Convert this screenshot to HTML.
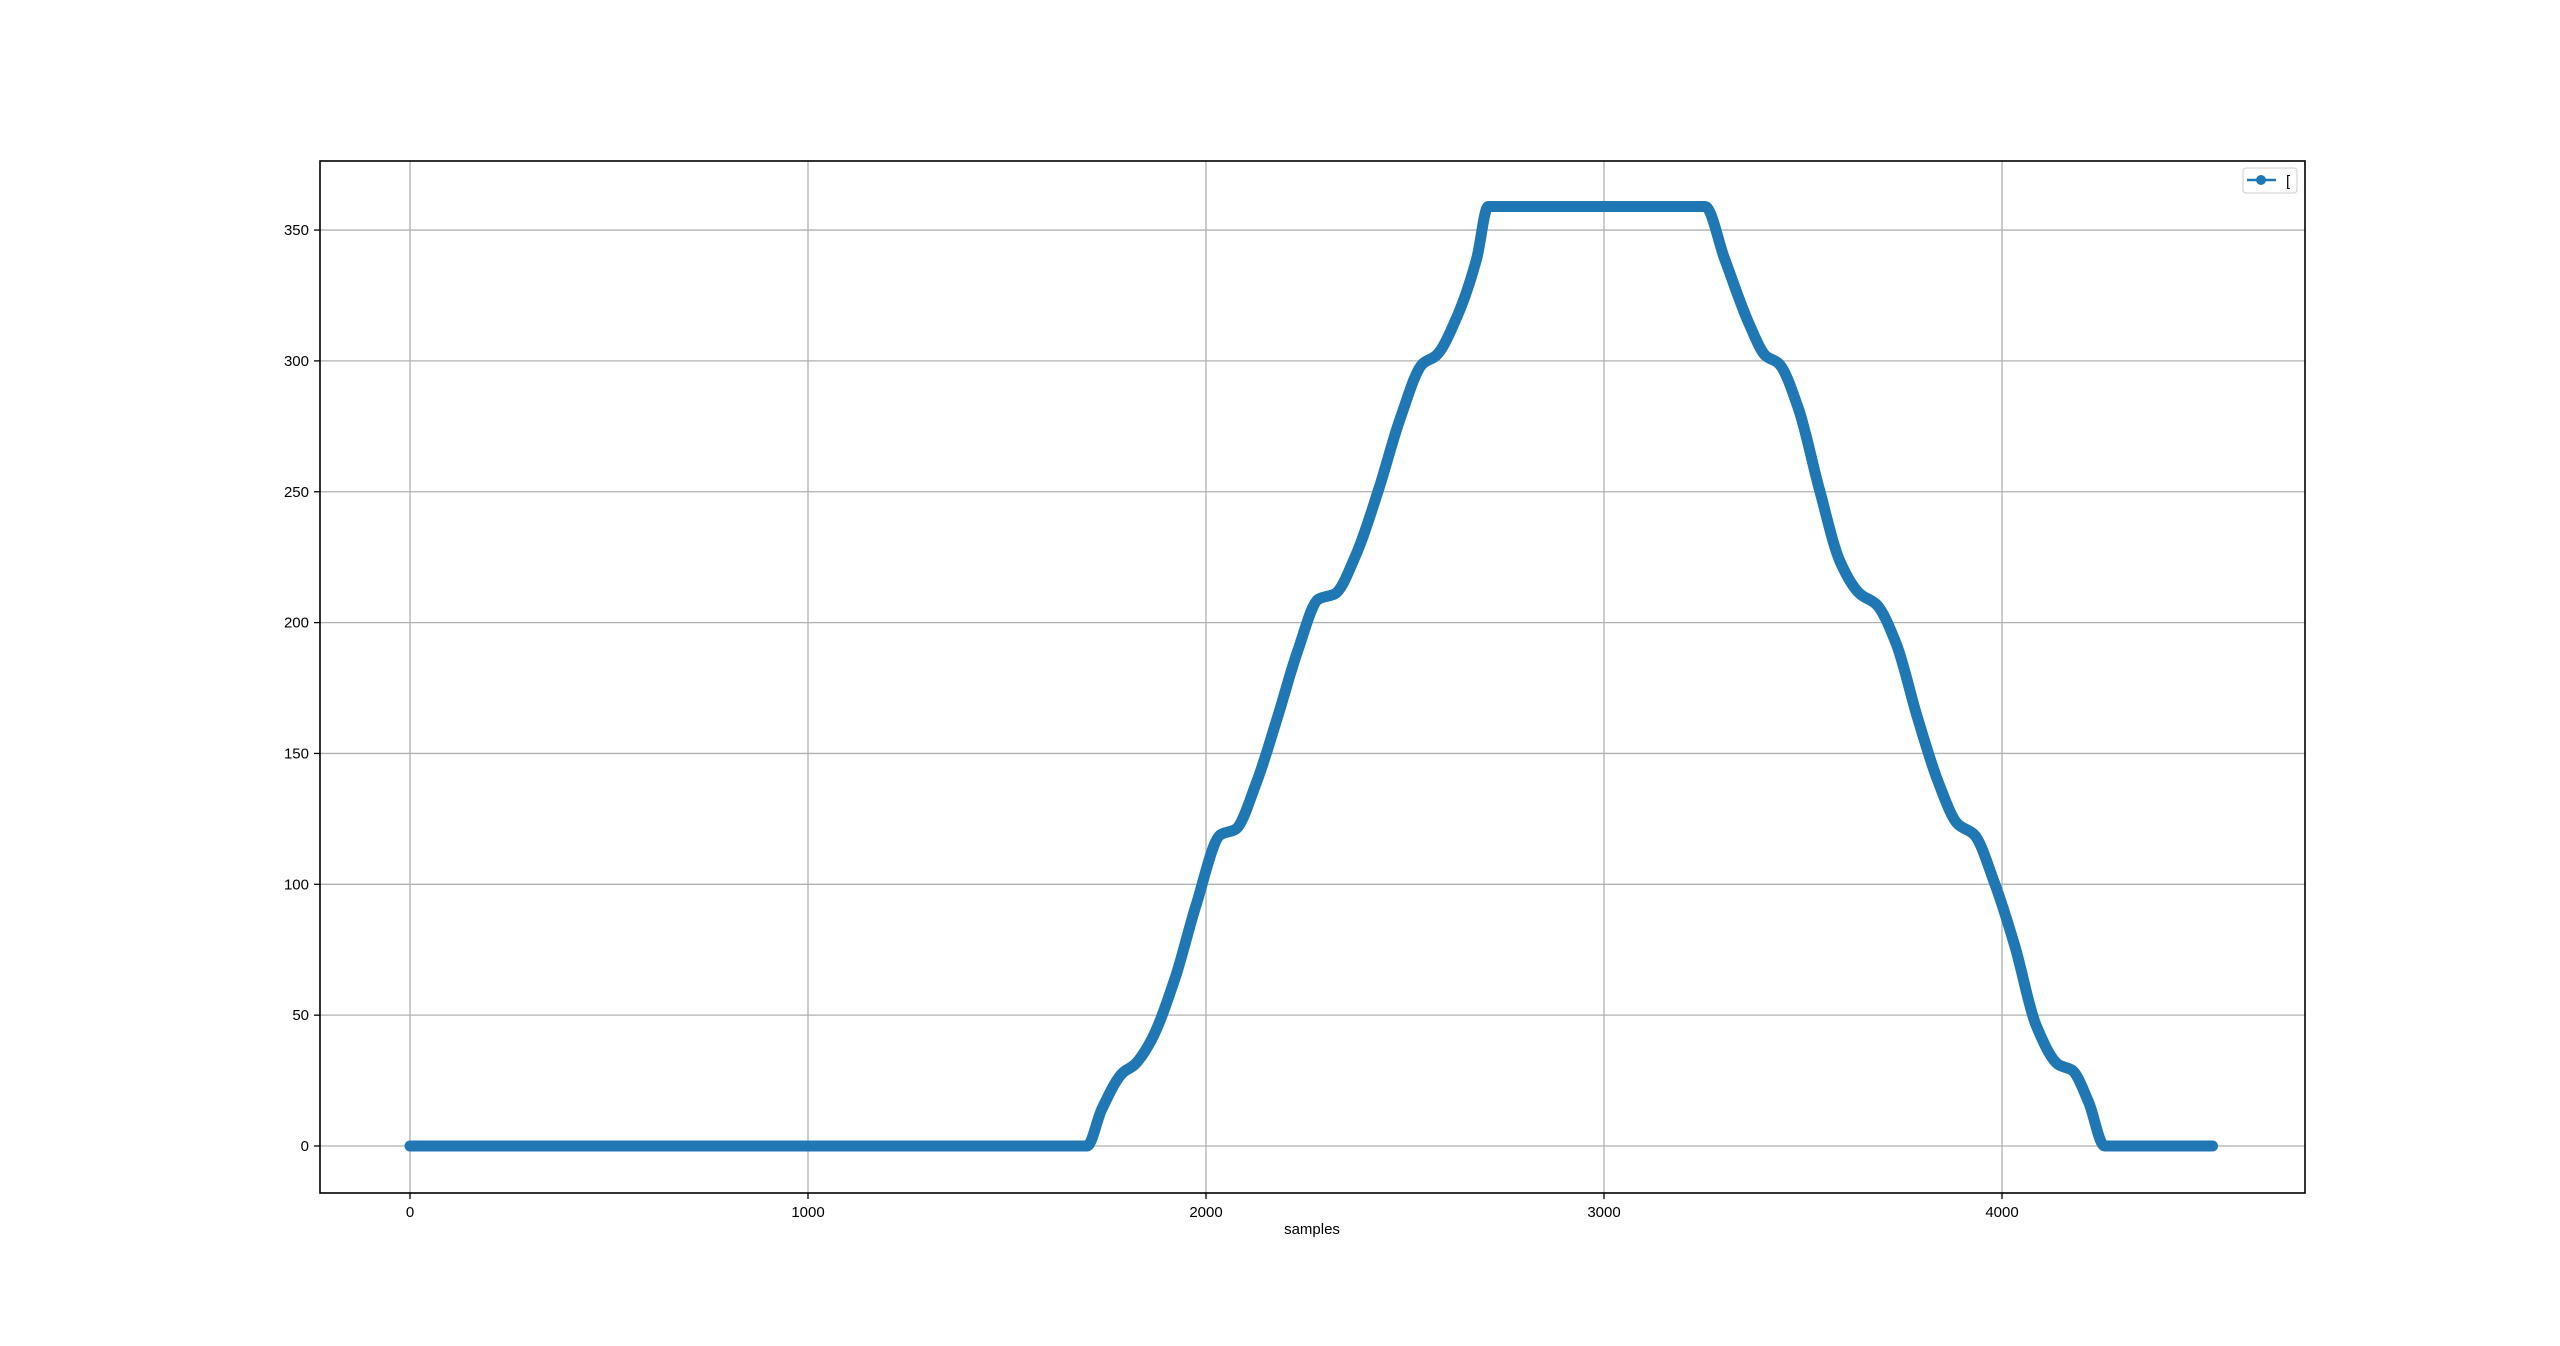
<!DOCTYPE html>
<html><head><meta charset="utf-8"><style>
html,body{margin:0;padding:0;background:#fff;}
svg text{font-family:"Liberation Sans","DejaVu Sans",sans-serif;font-size:15px;fill:#000;}
</style></head><body>
<svg id="chart" width="2560" height="1341" xmlns="http://www.w3.org/2000/svg">
<rect width="2560" height="1341" fill="#fff"/>
<g id="grid"></g>
<g id="series"></g>
<rect x="320" y="161" width="1985" height="1032" fill="none" stroke="#000" stroke-width="1.6"/>
<g id="ticks"></g>
<text x="1312" y="1234" text-anchor="middle">samples</text>
<g>
<rect x="2243" y="168" width="54" height="25" rx="3" fill="#fff" stroke="#ccc" stroke-width="1"/>
<line x1="2247" y1="180" x2="2276" y2="180" stroke="#1f77b4" stroke-width="2.5"/>
<circle cx="2261" cy="180" r="5" fill="#1f77b4"/>
<text x="2286" y="186">[</text>
</g>
</svg>
<script>
const xTicks=[0,1000,2000,3000,4000];
const yTicks=[0,50,100,150,200,250,300,350];
const samples=[0,1701,1738,1791,1820,1861,1922,1975,2037,2074,2127,2180,2230,2283,2324,2377,2434,2488,2545,2578,2631,2680,2709,3254,3303,3365,3406,3439,3488,3541,3594,3643,3684,3734,3787,3840,3889,3930,3980,4033,4086,4143,4176,4217,4258,4529];
const values=[0,0,14,28,31,40,64,92,119,121,139,164,189,209,211,226,251,278,299,302,317,339,359,359,339,314,302,299,282,251,223,211,207,192,164,139,123,119,101,76,46,31,29,17,0,0];
const X=v=>410+v*0.398;
const Y=v=>1146-v*2.617;
const NS='http://www.w3.org/2000/svg';
const grid=document.getElementById('grid'),ticks=document.getElementById('ticks'),ser=document.getElementById('series');
function mk(t,a,p){const e=document.createElementNS(NS,t);for(const k in a)e.setAttribute(k,a[k]);p.appendChild(e);return e;}
xTicks.forEach(t=>{
 const g=mk('line',{x1:X(t),x2:X(t),y1:161,y2:1193,stroke:'#b0b0b0','stroke-width':1.3},grid);
 
 
 mk('line',{x1:X(t),x2:X(t),y1:1193,y2:1199,stroke:'#000','stroke-width':1.3},ticks);
 const l=mk('text',{x:X(t),y:1217,'text-anchor':'middle'},ticks);l.textContent=t;
 
 
});
yTicks.forEach(t=>{
 const g=mk('line',{x1:320,x2:2305,y1:Y(t),y2:Y(t),stroke:'#b0b0b0','stroke-width':1.3},grid);
 
 
 mk('line',{x1:314,x2:320,y1:Y(t),y2:Y(t),stroke:'#000','stroke-width':1.3},ticks);
 const l=mk('text',{x:309,y:Y(t)+5,'text-anchor':'end'},ticks);l.textContent=t;
 
 
});
const px=samples.map(X), py=values.map(Y), n=px.length;
const dl=[], m=[];
for(let i=0;i<n-1;i++) dl.push((py[i+1]-py[i])/(px[i+1]-px[i]));
for(let i=0;i<n;i++){
 if(i===0) m.push(dl[0]); else if(i===n-1) m.push(dl[n-2]);
 else if(dl[i-1]*dl[i]<=0) m.push(0);
 else { const h0=px[i]-px[i-1],h1=px[i+1]-px[i]; const w1=2*h1+h0,w2=h1+2*h0; m.push((w1+w2)/(w1/dl[i-1]+w2/dl[i])); }
}
let d='M'+px[0]+','+py[0];
for(let i=0;i<n-1;i++){
 const h=(px[i+1]-px[i])/3;
 d+=' C'+(px[i]+h)+','+(py[i]+m[i]*h)+' '+(px[i+1]-h)+','+(py[i+1]-m[i+1]*h)+' '+px[i+1]+','+py[i+1];
}
const line=mk('path',{d:d,fill:'none',stroke:'#1f77b4','stroke-width':11,'stroke-linejoin':'round','stroke-linecap':'round'},ser);


</script>
</body></html>
